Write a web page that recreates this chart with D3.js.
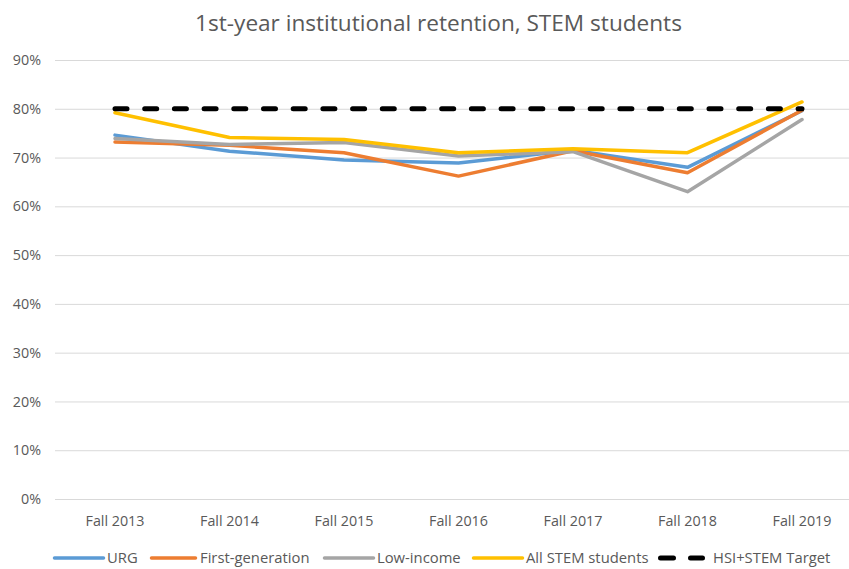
<!DOCTYPE html>
<html>
<head>
<meta charset="utf-8">
<script src="https://cdn.jsdelivr.net/npm/d3@7"></script>
<style>
  html, body { margin: 0; padding: 0; background: #fff; }
  svg { display: block; font-family: "Open Sans", "Noto Sans", sans-serif; }
</style>
</head>
<body>
<svg id="chart" width="849" height="569"></svg>
<script>
const categories = ["Fall 2013", "Fall 2014", "Fall 2015", "Fall 2016", "Fall 2017", "Fall 2018", "Fall 2019"];
const urg        = [74.6, 71.3, 69.5, 68.9, 71.5, 68.0, 79.6];
const firstGen   = [73.2, 72.5, 71.0, 66.2, 71.4, 66.9, 79.7];
const lowIncome  = [73.9, 72.7, 73.1, 70.3, 71.2, 63.0, 77.8];
const allStem    = [79.2, 74.1, 73.7, 71.0, 71.8, 71.0, 81.4];
const target     = [80, 80, 80, 80, 80, 80, 80];
const yTicks = [0, 10, 20, 30, 40, 50, 60, 70, 80, 90];
const seriesNames = ["URG", "First-generation", "Low-income", "All STEM students", "HSI+STEM Target"];
const titleText = "1st-year institutional retention, STEM students";

const series = [
  { name: seriesNames[0], values: urg,       color: "#5B9BD5", dashed: false },
  { name: seriesNames[1], values: firstGen,  color: "#ED7D31", dashed: false },
  { name: seriesNames[2], values: lowIncome, color: "#A5A5A5", dashed: false },
  { name: seriesNames[3], values: allStem,   color: "#FFC000", dashed: false },
  { name: seriesNames[4], values: target,    color: "#000000", dashed: true }
];

const svg = d3.select("#chart");
const plotLeft = 57.75, plotRight = 859.25, plotTop = 60, plotBottom = 499;

const x = d3.scaleBand().domain(categories).range([plotLeft, plotRight]);
const y = d3.scaleLinear().domain([0, 90]).range([plotBottom, plotTop]);

// title
svg.append("text")
  .attr("x", 438.5).attr("y", 31)
  .attr("text-anchor", "middle")
  .attr("fill", "#595959")
  .style("font-size", "22.6px")
  .text(titleText);

// y axis (gridlines + labels)
const yAxis = d3.axisLeft(y).tickValues(yTicks).tickFormat(d => d + "%")
  .tickSize(-(849 - 55)).tickPadding(14);
const gy = svg.append("g").attr("transform", "translate(55,0)").call(yAxis);
gy.select(".domain").remove();
gy.selectAll(".tick line").attr("stroke", "#d9d9d9").attr("stroke-width", 1);
gy.selectAll(".tick text").attr("fill", "#595959").style("font-size", "14.3px")
  .style("font-family", "'Open Sans', sans-serif");

// x axis labels
const xAxis = d3.axisBottom(x).tickSize(0).tickPadding(15);
const gx = svg.append("g").attr("transform", `translate(0,${plotBottom})`).call(xAxis);
gx.select(".domain").remove();
gx.selectAll(".tick text").attr("fill", "#595959").style("font-size", "14.3px")
  .style("font-family", "'Open Sans', sans-serif")
  .attr("y", 27).attr("dy", null);

// lines
const line = d3.line()
  .x((d, i) => x(categories[i]) + x.bandwidth() / 2)
  .y(d => y(d));

svg.append("g").selectAll("path").data(series).join("path")
  .attr("d", s => line(s.values))
  .attr("fill", "none")
  .attr("stroke", s => s.color)
  .attr("stroke-width", s => s.dashed ? 5 : 3.5)
  .attr("stroke-dasharray", s => s.dashed ? "12,17.7" : null)
  .attr("stroke-linejoin", "round")
  .attr("stroke-linecap", "round");

// legend
const legendX = [53, 150, 323, 472, 658];
const legY = 558;
const leg = svg.append("g").selectAll("g").data(series).join("g")
  .attr("transform", (s, i) => `translate(${legendX[i]},${legY})`);
leg.append("line")
  .attr("x1", s => s.dashed ? 2.5 : 1.5)
  .attr("x2", s => s.dashed ? 44.5 : (s.name === "First-generation" ? 45.5 : 50.5))
  .attr("y1", 0).attr("y2", 0)
  .attr("stroke", s => s.color)
  .attr("stroke-width", s => s.dashed ? 5 : 3.5)
  .attr("stroke-linecap", "round")
  .attr("stroke-dasharray", s => s.dashed ? "13,17" : null);
leg.append("text")
  .attr("x", s => s.dashed ? 55 : (s.name === "First-generation" ? 50 : 54))
  .attr("y", 0).attr("dy", "0.35em")
  .attr("fill", "#595959")
  .style("font-size", "14.8px")
  .text(s => s.name);
</script>
</body>
</html>
